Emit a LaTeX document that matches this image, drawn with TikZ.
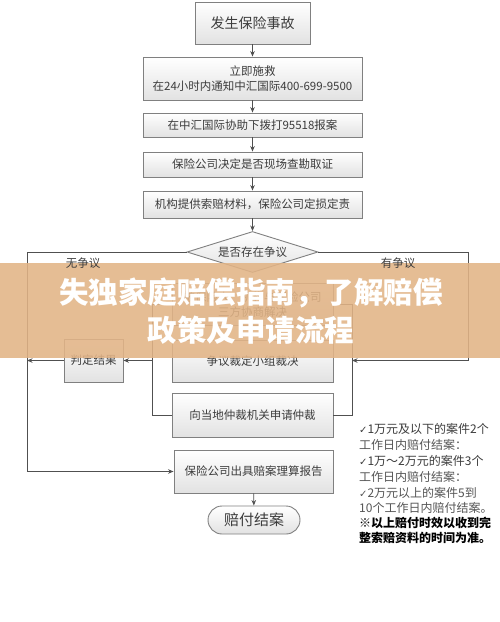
\documentclass[tikz,border=0pt]{standalone}
\usepackage{fontspec}
\setmainfont{Noto Sans CJK SC}
\newfontfamily\symfont{DejaVu Sans}
\usetikzlibrary{arrows.meta,shapes.geometric}
\definecolor{boxline}{HTML}{808080}
\definecolor{boxbot}{HTML}{E2E2E2}
\definecolor{txt}{HTML}{3C3C3C}
\definecolor{arrc}{HTML}{505050}
\definecolor{bannerc}{RGB}{226,180,134}
\definecolor{notec}{HTML}{555555}
\begin{document}
\begin{tikzpicture}[x=1pt,y=-1pt,
  box/.style={draw=boxline,line width=0.9pt,top color=white,bottom color=boxbot,
    text=txt,font=\fontsize{11.5}{15}\selectfont,inner sep=0pt,align=center},
  arr/.style={-{Stealth[length=5.5pt,width=4.5pt]},draw=arrc,line width=0.8pt},
  ln/.style={draw=arrc,line width=0.8pt},
  lbl/.style={text=txt,font=\fontsize{11.5}{14}\selectfont},
  note/.style={anchor=west,inner sep=0pt,text=notec,font=\fontsize{12}{14}\selectfont},
  title/.style={text=white,font=\fontsize{29.5}{32}\selectfont\bfseries}
]
\useasboundingbox (0,0) rectangle (500,622);
\fill[white] (0,0) rectangle (500,622);

% main column
\node[box,minimum width=115pt,minimum height=42pt,font=\fontsize{14}{16}\selectfont] (b1) at (252.5,23) {发生保险事故};
\node[box,minimum width=219pt,minimum height=43pt] (b2) at (252.5,78.5) {立即施救\\在24小时内通知中汇国际400-699-9500};
\node[box,minimum width=219pt,minimum height=24pt] (b3) at (252.5,125) {在中汇国际协助下拨打95518报案};
\node[box,minimum width=219pt,minimum height=25pt] (b4) at (252.5,164.5) {保险公司决定是否现场查勘取证};
\node[box,minimum width=219pt,minimum height=27pt] (b5) at (252.5,204.5) {机构提供索赔材料，保险公司定损定责};
\node[box,shape=diamond,aspect=3.2,minimum width=131pt,minimum height=41pt] (dia) at (252.5,252) {是否存在争议};

\node[box,minimum width=161pt,minimum height=42pt] (tri) at (252.5,304.5) {被保险人、机构与保险公司\\三方协商解决};
\node[box,minimum width=161pt,minimum height=42pt] (dec) at (252.5,361) {争议裁定小组裁决};
\node[box,minimum width=161pt,minimum height=44pt] (arb) at (252.5,415) {向当地仲裁机关申请仲裁};
\node[box,minimum width=59pt,minimum height=43pt] (jud) at (93.5,360.5) {判定结果};
\node[box,minimum width=159pt,minimum height=43pt] (rep) at (253.5,471.5) {保险公司出具赔案理算报告};
\node[box,rounded corners=14pt,minimum width=92pt,minimum height=28pt,font=\fontsize{15}{17}\selectfont] (fin) at (254,520) {赔付结案};

% vertical arrows
\draw[arr] (b1) -- (b2);
\draw[arr] (b2) -- (b3);
\draw[arr] (b3) -- (b4);
\draw[arr] (b4) -- (b5);
\draw[arr] (b5) -- (dia);
\draw[arr] (rep) -- (fin);

% left branch
\coordinate (L1) at (27,252);
\coordinate (L2) at (27,471.5);
\coordinate (L3) at (27,360.5);
\draw[ln] (dia.west) -- (L1) -- (L2);
\draw[arr] (L2) -- (rep.west);
\draw[arr] (jud.west) -- (L3);

% brackets
\coordinate (B1) at (152,304.5);
\coordinate (B2) at (152,415);
\coordinate (B3) at (152,360.5);
\coordinate (B5) at (352,304.5);
\coordinate (B6) at (352,415);
\coordinate (B4) at (352,360.5);
\draw[ln] (tri.west) -- (B1) -- (B2) -- (arb.west);
\draw[ln] (tri.east) -- (B5) -- (B6) -- (arb.east);
\draw[arr] (B3) -- (jud.east);

% right branch
\coordinate (R1) at (468,252);
\coordinate (R2) at (468,360.5);
\draw[arr] (dia.east) -- (R1) -- (R2) -- (B4);

% notes
\node[note,text=txt] (n1) at (359,429) {{\symfont\fontsize{10}{12}\selectfont ✓}1万元及以下的案件2个};
\node[note] (n2) at (359,444.5) {工作日内赔付结案：};
\node[note,text=txt] (n3) at (359,460.5) {{\symfont\fontsize{10}{12}\selectfont ✓}1万～2万元的案件3个};
\node[note] (n4) at (359,477) {工作日内赔付结案：};
\node[note] (n5) at (359,492.5) {{\symfont\fontsize{10}{12}\selectfont ✓}2万元以上的案件5到};
\node[note] (n6) at (359,508) {10个工作日内赔付结案。};
\node[note,text=black,font=\fontsize{12}{14}\selectfont\bfseries] (n7) at (359,523) {※以上赔付时效以收到完};
\node[note,text=black,font=\fontsize{12}{14}\selectfont\bfseries] (n8) at (359,538) {整索赔资料的时间为准。};

% banner
\fill[bannerc,opacity=0.88] (0,263) rectangle (500,358);
\node[lbl] (nl) at (83,263.5) {无争议};
\node[lbl] (yl) at (398,263.5) {有争议};
\node[title] (t1) at (251,293) {失独家庭赔偿指南，了解赔偿};
\node[title] (t2) at (251,330) {政策及申请流程};
\end{tikzpicture}
\end{document}
